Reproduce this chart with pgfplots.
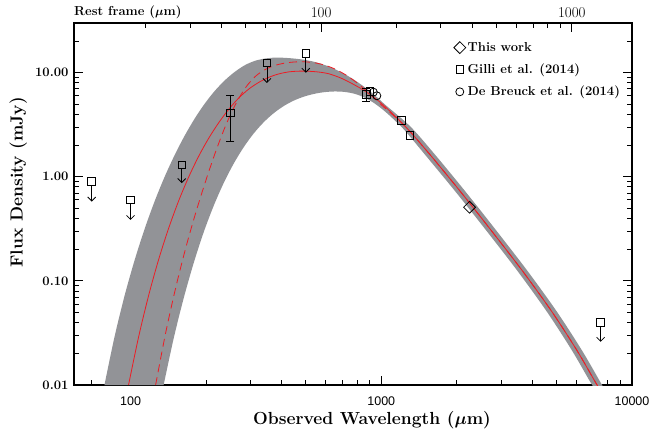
\documentclass[border=0pt]{standalone}
\usepackage{fontspec}
\newfontfamily\xsans{Liberation Sans}
\usepackage{pgfplots}
\pgfplotsset{compat=1.18}
\usepgfplotslibrary{fillbetween}
\usetikzlibrary{arrows.meta}
\definecolor{bandgray}{RGB}{146,147,151}
\definecolor{fitred}{RGB}{237,28,36}
\begin{document}
\begin{tikzpicture}
\begin{axis}[
  scale only axis, width=558pt, height=362pt,
  xmode=log, ymode=log,
  xmin=59.5, xmax=10000, ymin=0.01, ymax=30,
  xtick={100,1000,10000}, xticklabels={100,1000,10000},
  minor xtick={70,80,90,200,300,400,500,600,700,800,900,2000,3000,4000,5000,6000,7000,8000,9000},
  ytick={0.01,0.1,1,10}, yticklabels={0.01,0.10,1.00,10.00},
  minor ytick={0.02,0.03,0.04,0.05,0.06,0.07,0.08,0.09,0.2,0.3,0.4,0.5,0.6,0.7,0.8,0.9,2,3,4,5,6,7,8,9,20,30},
  xtick pos=bottom, ytick pos=both,
  tick align=inside,
  major tick length=9pt, minor tick length=5pt,
  axis line style={line width=1.1pt},
  every tick/.style={black, line width=0.8pt},
  xticklabel style={font=\xsans\fontsize{12.5}{14}\selectfont, yshift=-8pt},
  yticklabel style={font=\fontsize{13}{15}\selectfont\bfseries, xshift=-2pt},
  xlabel={Observed Wavelength ($\mu$m)},
  ylabel={Flux Density (mJy)},
  every axis x label/.style={at={(axis description cs:0.534,-0.097)}, anchor=center},
  every axis y label/.style={at={(axis description cs:-0.1,0.56)}, rotate=90, anchor=center},
  label style={font=\fontsize{17.5}{20}\selectfont\bfseries\boldmath},
  legend style={at={(0.675,0.958)}, anchor=north west, draw=none, fill=none,
    font=\fontsize{13}{15}\selectfont\bfseries, row sep=7pt},
  legend cell align=left,
]
% uncertainty band
\addplot[name path=upper, draw=none, smooth, forget plot] coordinates {
(78.70,0.01) (86.30,0.02894) (94.62,0.07175) (103.75,0.1574) (113.76,0.3146) (124.74,0.5812)
(136.77,1.0) (149.97,1.619) (164.44,2.484) (180.30,3.627) (197.70,5.046) (216.77,6.683)
(237.68,8.441) (260.62,10.19) (285.76,11.80) (313.33,12.99) (343.56,13.66) (376.70,13.95)
(413.05,13.88) (452.90,13.63) (496.59,13.26) (544.50,12.65) (597.04,11.81) (654.64,10.78)
(717.79,9.632) (787.05,8.414) (862.98,7.191) (946.24,6.009) (1037.5,4.913) (1306.2,3.039)
(1629.3,1.657) (2128.1,0.7601) (2754.2,0.3478) (3801.9,0.1276) (5011.9,0.05078)
(6309.6,0.02157) (7447.3,0.01085) (7726.8,0.00936)};
\addplot[name path=lower, draw=none, smooth, forget plot] coordinates {
(135.52,0.01) (148.59,0.0280) (162.93,0.06825) (178.65,0.1489) (195.88,0.2942) (214.78,0.5292)
(235.50,0.8755) (258.23,1.346) (283.14,1.934) (310.46,2.620) (340.41,3.357) (373.25,4.099)
(409.26,4.796) (448.75,5.404) (492.04,5.891) (539.51,6.254) (591.56,6.494) (648.63,6.595)
(711.21,6.538) (779.83,6.282) (855.07,5.788) (937.56,5.090) (1028.0,4.298) (1127.2,3.513)
(1235.9,2.818) (1485.9,1.657) (1940.9,0.7601) (2511.9,0.3478) (3467.4,0.1276)
(4570.9,0.05078) (5754.4,0.02157) (6792.4,0.01085) (7079.5,0.00936)};
\addplot[bandgray, forget plot] fill between[of=upper and lower];
% best fit (solid)
\addplot[fitred, line width=0.8pt, smooth, forget plot] coordinates {
(98.17,0.01) (107.64,0.02882) (118.03,0.07223) (129.42,0.1603) (141.91,0.3205) (155.60,0.5877)
(170.61,0.9956) (187.07,1.578) (205.12,2.351) (224.91,3.313) (246.60,4.457) (270.40,5.724)
(296.48,6.970) (325.09,8.086) (356.45,9.033) (390.84,9.739) (428.55,10.18) (469.89,10.34)
(515.23,10.31) (564.94,10.13) (619.44,9.739) (691.83,8.854) (772.68,7.753) (870.96,6.538)
(1009.3,4.990) (1247.4,3.039) (1555.9,1.657) (2032.4,0.7601) (2630.3,0.3478) (3630.8,0.1276)
(4786.3,0.05078) (6025.6,0.02157) (7112.5,0.01085) (7379.0,0.00936)};
% alternative fit (dashed)
\addplot[fitred, line width=0.8pt, dash pattern=on 8pt off 5pt, smooth, forget plot] coordinates {
(125.89,0.01) (138.04,0.03162) (151.36,0.08563) (165.96,0.2065) (181.97,0.4507) (199.53,0.9153)
(218.78,1.759) (239.88,3.128) (263.03,5.034) (288.40,7.255) (316.23,9.306) (346.74,10.81)
(380.19,11.81) (416.87,12.41) (457.09,12.69) (501.19,12.69) (549.54,12.37) (602.56,11.70)
(660.69,10.71) (724.44,9.462) (794.33,8.086) (870.96,6.714) (1000,4.913) (1247.4,3.039)
(1555.9,1.657) (2032.4,0.7601) (2630.3,0.3478) (3630.8,0.1276) (4786.3,0.05078)
(6025.6,0.02157) (7112.5,0.01085) (7379.0,0.00936)};
% upper-limit arrows
\addplot[black, line width=0.8pt, -{Straight Barb[length=4pt,width=8pt]}, forget plot] coordinates {(70,0.824) (70,0.578)};
\addplot[black, line width=0.8pt, -{Straight Barb[length=4pt,width=8pt]}, forget plot] coordinates {(100,0.549) (100,0.385)};
\addplot[black, line width=0.8pt, -{Straight Barb[length=4pt,width=8pt]}, forget plot] coordinates {(160,1.19) (160,0.87)};
\addplot[black, line width=0.8pt, -{Straight Barb[length=4pt,width=8pt]}, forget plot] coordinates {(350,11.35) (350,7.96)};
\addplot[black, line width=0.8pt, -{Straight Barb[length=4pt,width=8pt]}, forget plot] coordinates {(500,14.0) (500,9.98)};
\addplot[black, line width=0.8pt, -{Straight Barb[length=4pt,width=8pt]}, forget plot] coordinates {(7500,0.0366) (7500,0.026)};
% points with error bars
\addplot[only marks, mark=square, mark size=3.8pt, black, line width=0.8pt, forget plot,
  error bars/.cd, y dir=both, y explicit,
  error bar style={line width=0.8pt},
  error mark options={rotate=90, mark size=4pt, line width=0.8pt}]
  coordinates {(250,4.1) +- (0,1.9) (870,6.2) +- (0,0.9)};
% legend series
\addplot[only marks, mark=square, mark size=4.2pt, mark options={rotate=45}, black, line width=0.8pt]
  coordinates {(2250,0.51)};
\addlegendentry{This work}
\addplot[only marks, mark=square, mark size=3.8pt, black, line width=0.8pt]
  coordinates {(70,0.9) (100,0.6) (160,1.3) (350,12.4) (500,15.3) (900,6.6) (1200,3.5) (1300,2.5) (7500,0.04)};
\addlegendentry{Gilli et al. (2014)}
\addplot[only marks, mark=o, mark size=4pt, black, line width=0.8pt]
  coordinates {(930,6.5) (960,6.0)};
\addlegendentry{De Breuck et al. (2014)}
\end{axis}
\begin{axis}[
  scale only axis, width=558pt, height=362pt,
  xmode=log, xmin=10.339, xmax=1737.6, ymin=0, ymax=1,
  axis x line*=top, axis y line=none,
  xtick={100,1000}, xticklabels={100,1000},
  minor xtick={20,30,40,50,60,70,80,90,200,300,400,500,600,700,800,900},
  ytick=\empty,
  tick align=inside,
  major tick length=9pt, minor tick length=5pt,
  axis line style={line width=1.1pt},
  every tick/.style={black, line width=0.8pt},
  xticklabel style={font=\fontsize{15}{17}\selectfont, yshift=2pt},
]
\addplot[draw=none, forget plot] coordinates {(100,0.5)};
\end{axis}
\node[anchor=base west, inner sep=0pt, font=\fontsize{13}{15}\selectfont\bfseries\boldmath] at (0pt,369pt) {Rest frame ($\mu$m)};
\pgfresetboundingbox
\path[use as bounding box] (-74pt,-46pt) rectangle (578pt,385pt);
\end{tikzpicture}
\end{document}
